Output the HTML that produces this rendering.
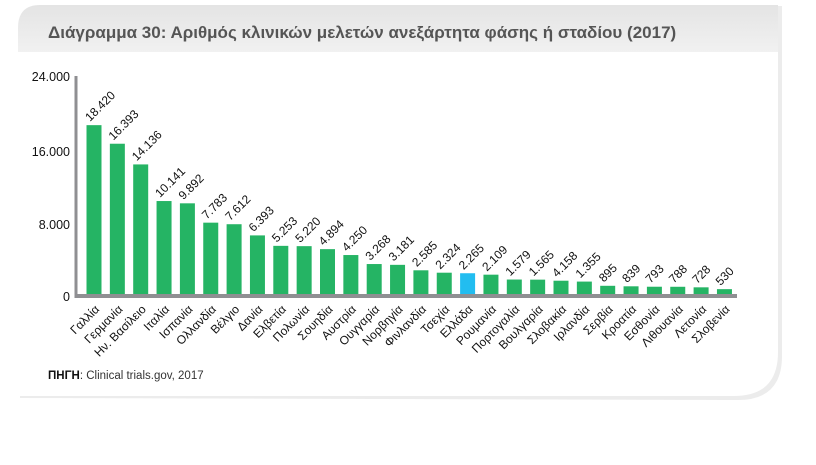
<!DOCTYPE html>
<html><head><meta charset="utf-8"><style>
body{margin:0;width:816px;height:460px;background:#fff;overflow:hidden;font-family:"Liberation Sans","DejaVu Sans",sans-serif;}
</style></head><body>
<svg width="816" height="460" xmlns="http://www.w3.org/2000/svg" font-family="Liberation Sans, DejaVu Sans, sans-serif">
<defs>
<linearGradient id="tg" x1="0" y1="0" x2="0" y2="1"><stop offset="0" stop-color="#e4e4e4"/><stop offset="1" stop-color="#f1f1f1"/></linearGradient>
</defs>
<path d="M20 398 L20 28 Q20 6 42 6 L782 6 L782 356 Q782 400 738 400 Z" fill="#ececec"/>
<path d="M18 396 L18 28 Q18 5 40 5 L778 5 L778 352 Q778 396 734 396 Z" fill="#fff"/>
<path d="M18 52 L18 28 Q18 5 40 5 L778 5 L778 52 Z" fill="url(#tg)"/>
<text x="48" y="38" font-size="17" font-weight="bold" fill="#555">Διάγραμμα 30: Αριθμός κλινικών μελετών ανεξάρτητα φάσης ή σταδίου (2017)</text>
<g font-size="12.5" fill="#111" text-anchor="end">
<text x="70" y="81">24.000</text><text x="70" y="156">16.000</text><text x="70" y="229">8.000</text><text x="70" y="301">0</text>
</g>
<line x1="76" y1="76" x2="76" y2="298" stroke="#8f8f92" stroke-width="3"/>
<g fill="#25b464">
<rect x="86.5" y="125.15" width="15" height="168.85"/>
<rect x="109.85" y="143.73" width="15" height="150.27"/>
<rect x="133.2" y="164.42" width="15" height="129.58"/>
<rect x="156.55" y="201.04" width="15" height="92.96"/>
<rect x="179.9" y="203.32" width="15" height="90.68"/>
<rect x="203.25" y="222.66" width="15" height="71.34"/>
<rect x="226.6" y="224.22" width="15" height="69.78"/>
<rect x="249.95" y="235.4" width="15" height="58.6"/>
<rect x="273.3" y="245.85" width="15" height="48.15"/>
<rect x="296.65" y="246.15" width="15" height="47.85"/>
<rect x="320" y="249.14" width="15" height="44.86"/>
<rect x="343.35" y="255.04" width="15" height="38.96"/>
<rect x="366.7" y="264.04" width="15" height="29.96"/>
<rect x="390.05" y="264.84" width="15" height="29.16"/>
<rect x="413.4" y="270.3" width="15" height="23.7"/>
<rect x="436.75" y="272.7" width="15" height="21.3"/>
<rect x="460.1" y="273.24" width="15" height="20.76" fill="#22bdf0"/>
<rect x="483.45" y="274.67" width="15" height="19.33"/>
<rect x="506.8" y="279.53" width="15" height="14.47"/>
<rect x="530.15" y="279.65" width="15" height="14.35"/>
<rect x="553.5" y="280.71" width="15" height="13.29"/>
<rect x="576.85" y="281.58" width="15" height="12.42"/>
<rect x="600.2" y="285.8" width="15" height="8.2"/>
<rect x="623.55" y="286.31" width="15" height="7.69"/>
<rect x="646.9" y="286.73" width="15" height="7.27"/>
<rect x="670.25" y="286.78" width="15" height="7.22"/>
<rect x="693.6" y="287.33" width="15" height="6.67"/>
<rect x="716.95" y="289.14" width="15" height="4.86"/>
</g>
<line x1="75" y1="296" x2="737" y2="296" stroke="#8f8f92" stroke-width="4"/>
<g font-size="12" fill="#111">
<text transform="translate(90,122) rotate(-45)">18.420</text>
<text transform="translate(113.35,140.7) rotate(-45)">16.393</text>
<text transform="translate(136.7,161.4) rotate(-45)">14.136</text>
<text transform="translate(160.05,198) rotate(-45)">10.141</text>
<text transform="translate(183.4,200.3) rotate(-45)">9.892</text>
<text transform="translate(206.75,219.7) rotate(-45)">7.783</text>
<text transform="translate(230.1,221.2) rotate(-45)">7.612</text>
<text transform="translate(253.45,232.4) rotate(-45)">6.393</text>
<text transform="translate(276.8,242.9) rotate(-45)">5.253</text>
<text transform="translate(300.15,243.2) rotate(-45)">5.220</text>
<text transform="translate(323.5,246.1) rotate(-45)">4.894</text>
<text transform="translate(346.85,252) rotate(-45)">4.250</text>
<text transform="translate(370.2,261) rotate(-45)">3.268</text>
<text transform="translate(393.55,261.8) rotate(-45)">3.181</text>
<text transform="translate(416.9,267.3) rotate(-45)">2.585</text>
<text transform="translate(440.25,269.7) rotate(-45)">2.324</text>
<text transform="translate(463.6,270.2) rotate(-45)">2.265</text>
<text transform="translate(486.95,271.7) rotate(-45)">2.109</text>
<text transform="translate(510.3,276.5) rotate(-45)">1.579</text>
<text transform="translate(533.65,276.6) rotate(-45)">1.565</text>
<text transform="translate(557,277.7) rotate(-45)">4.158</text>
<text transform="translate(580.35,278.6) rotate(-45)">1.355</text>
<text transform="translate(603.7,282.8) rotate(-45)">895</text>
<text transform="translate(627.05,283.3) rotate(-45)">839</text>
<text transform="translate(650.4,283.7) rotate(-45)">793</text>
<text transform="translate(673.75,283.8) rotate(-45)">788</text>
<text transform="translate(697.1,284.3) rotate(-45)">728</text>
<text transform="translate(720.45,286.1) rotate(-45)">530</text>
</g>
<g font-size="12" fill="#111" text-anchor="end">
<text transform="translate(100,310) rotate(-45)">Γαλλία</text>
<text transform="translate(123.35,310) rotate(-45)">Γερμανία</text>
<text transform="translate(146.7,310) rotate(-45)">Ην. Βασίλειο</text>
<text transform="translate(170.05,310) rotate(-45)">Ιταλία</text>
<text transform="translate(193.4,310) rotate(-45)">Ισπανία</text>
<text transform="translate(216.75,310) rotate(-45)">Ολλανδία</text>
<text transform="translate(240.1,310) rotate(-45)">Βέλγιο</text>
<text transform="translate(263.45,310) rotate(-45)">Δανία</text>
<text transform="translate(286.8,310) rotate(-45)">Ελβετία</text>
<text transform="translate(310.15,310) rotate(-45)">Πολωνία</text>
<text transform="translate(333.5,310) rotate(-45)">Σουηδία</text>
<text transform="translate(356.85,310) rotate(-45)">Αυστρία</text>
<text transform="translate(380.2,310) rotate(-45)">Ουγγαρία</text>
<text transform="translate(403.55,310) rotate(-45)">Νορβηγία</text>
<text transform="translate(426.9,310) rotate(-45)">Φινλανδία</text>
<text transform="translate(450.25,310) rotate(-45)">Τσεχία</text>
<text transform="translate(473.6,310) rotate(-45)">Ελλάδα</text>
<text transform="translate(496.95,310) rotate(-45)">Ρουμανία</text>
<text transform="translate(520.3,310) rotate(-45)">Πορτογαλία</text>
<text transform="translate(543.65,310) rotate(-45)">Βουλγαρία</text>
<text transform="translate(567,310) rotate(-45)">Σλοβακία</text>
<text transform="translate(590.35,310) rotate(-45)">Ιρλανδία</text>
<text transform="translate(613.7,310) rotate(-45)">Σερβία</text>
<text transform="translate(637.05,310) rotate(-45)">Κροατία</text>
<text transform="translate(660.4,310) rotate(-45)">Εσθονία</text>
<text transform="translate(683.75,310) rotate(-45)">Λιθουανία</text>
<text transform="translate(707.1,310) rotate(-45)">Λετονία</text>
<text transform="translate(730.45,310) rotate(-45)">Σλοβενία</text>
</g>
<text x="48" y="379" font-size="11.5" fill="#333"><tspan font-weight="bold" fill="#111">ΠΗΓΗ</tspan>: Clinical trials.gov, 2017</text>
</svg>
</body></html>
